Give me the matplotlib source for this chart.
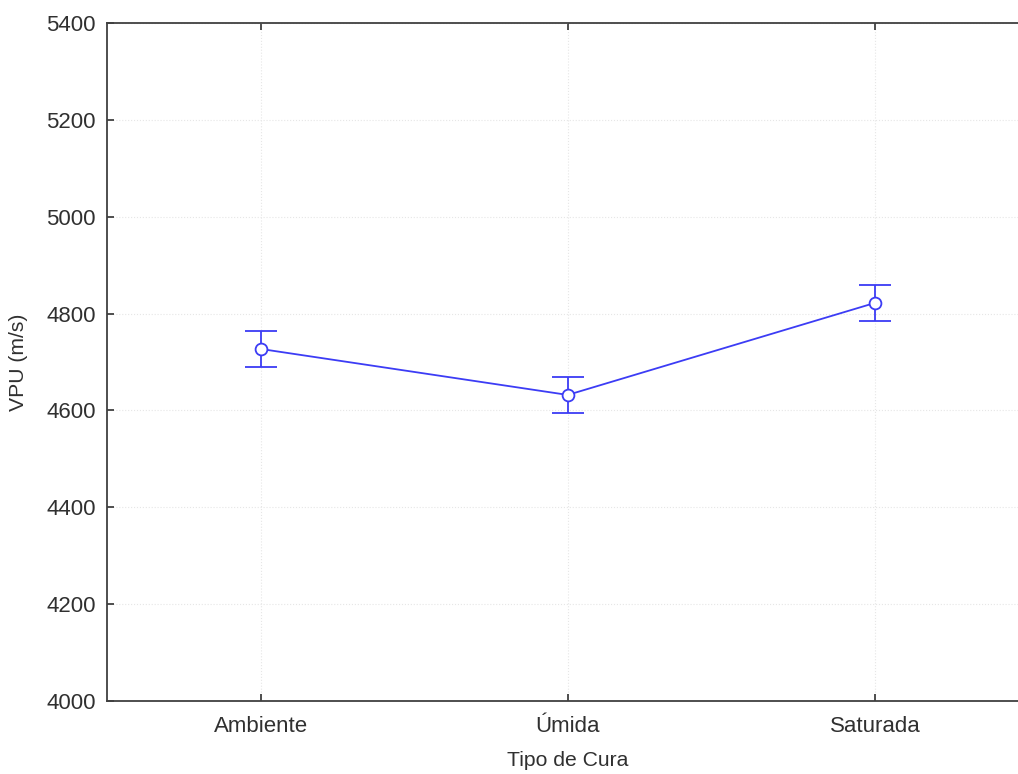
import matplotlib
matplotlib.use("Agg")
import matplotlib.pyplot as plt

categories = ["Ambiente", "Úmida", "Saturada"]
means = [4727, 4632, 4822]
upper = [4764, 4669, 4859]
lower = [4690, 4595, 4785]

plt.rcParams['font.family'] = ['Liberation Sans', 'DejaVu Sans']

W, H = 1018, 774
fig = plt.figure(figsize=(W/100, H/100), dpi=100)
left, right, top, bottom = 107, 1028.5, 23, 701
ax = fig.add_axes([left/W, 1 - bottom/H, (right-left)/W, (bottom-top)/H])

x = list(range(len(categories)))
yerr = [[m - l for m, l in zip(means, lower)], [u - m for u, m in zip(upper, means)]]
col = '#3c3cf5'
ax.errorbar(x, means, yerr=yerr, color=col, lw=1.3, elinewidth=1.3, capsize=11.5, capthick=1.3,
            marker='o', markersize=8.5, markerfacecolor='white', markeredgecolor=col, markeredgewidth=1.3,
            zorder=3)

ax.set_xlim(-0.5, 2.5)
ax.set_ylim(4000, 5400)
ax.set_yticks(range(4000, 5401, 200))
ax.set_xticks(x)
ax.set_xticklabels(categories)
ax.grid(True, color='#e6e6e6', linestyle=':', linewidth=0.8, zorder=0)

for s in ['left', 'top', 'bottom']:
    ax.spines[s].set_color('#404040')
    ax.spines[s].set_linewidth(1.3)
ax.spines['right'].set_visible(False)
ax.tick_params(direction='in', length=5, width=1.3, color='#404040', labelcolor='#303030',
               labelsize=16, top=True, right=False)
ax.tick_params(axis='y', pad=8)
ax.tick_params(axis='x', pad=11)

ax.set_xlabel("Tipo de Cura", fontsize=15.2, color='#303030', labelpad=10)
ax.set_ylabel("VPU (m/s)", fontsize=15.2, color='#303030', labelpad=13)

fig.savefig("out.png", dpi=100)
